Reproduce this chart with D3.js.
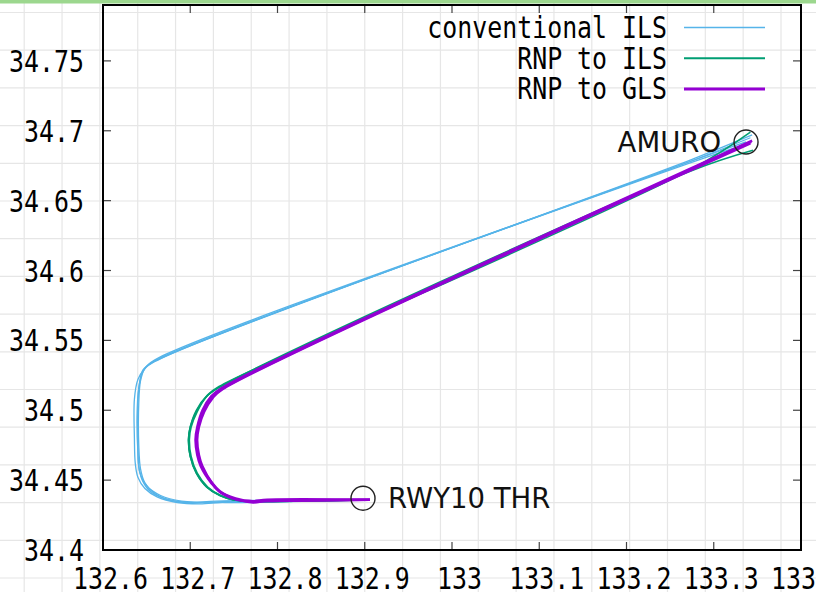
<!DOCTYPE html>
<html>
<head>
<meta charset="utf-8">
<script src="https://cdn.jsdelivr.net/npm/d3@7/dist/d3.min.js"></script>
<style>
  body { margin: 0; background: #fff; }
  svg { display: block; }
</style>
</head>
<body>
<div id="chart-area"></div>
<script>
// tick values
var xTicks = [132.6, 132.7, 132.8, 132.9, 133.0, 133.1, 133.2, 133.3, 133.4];
var yTicks = [34.4, 34.45, 34.5, 34.55, 34.6, 34.65, 34.7, 34.75];

// series names (legend order)
var seriesNames = ["conventional ILS", "RNP to ILS", "RNP to GLS"];
var seriesColors = ["#56b4e9", "#009e73", "#9400d3"];

// waypoints [lon, lat, name]
var waypoints = [
    [133.337, 34.692, "AMURO"],
    [132.898, 34.437, "RWY10 THR"]
];

// conventional ILS tracks
var ilsTracks = [
    [[133.344,34.697],[133.273,34.679],[132.658,34.535],[132.648,34.530],[132.640,34.522],[132.636,34.508],[132.636,34.480],[132.637,34.462],[132.640,34.452],[132.648,34.444],[132.662,34.438],[132.685,34.434],[132.711,34.433],[132.734,34.434],[132.763,34.435],[132.906,34.436]],
    [[133.337,34.692],[133.273,34.678],[132.656,34.534],[132.646,34.529],[132.642,34.520],[132.640,34.505],[132.640,34.478],[132.641,34.460],[132.645,34.450],[132.654,34.442],[132.670,34.437],[132.694,34.434],[132.720,34.434],[132.750,34.435],[132.906,34.436]],
    [[133.342,34.695],[133.273,34.678],[132.659,34.536],[132.648,34.530],[132.643,34.521],[132.641,34.505],[132.641,34.475],[132.643,34.458],[132.648,34.448],[132.658,34.441],[132.675,34.436],[132.700,34.434],[132.730,34.435],[132.906,34.436]],
    [[133.336,34.690],[133.273,34.677],[132.657,34.534],[132.646,34.528],[132.641,34.516],[132.639,34.495],[132.640,34.470],[132.642,34.456],[132.650,34.446],[132.666,34.439],[132.690,34.435],[132.740,34.434],[132.906,34.436]]
];

// RNP to ILS tracks
var rnpIlsTracks = [
    [[133.342,34.699],[133.273,34.672],[132.733,34.517],[132.720,34.511],[132.707,34.500],[132.700,34.488],[132.698,34.479],[132.700,34.467],[132.707,34.455],[132.719,34.445],[132.734,34.439],[132.749,34.436],[132.765,34.435],[132.906,34.436]],
    [[133.345,34.686],[133.273,34.671],[132.732,34.516],[132.719,34.510],[132.708,34.499],[132.701,34.488],[132.699,34.479],[132.701,34.467],[132.708,34.455],[132.720,34.445],[132.735,34.439],[132.750,34.436],[132.766,34.435],[132.906,34.436]],
    [[133.338,34.691],[133.273,34.672],[132.732,34.516],[132.719,34.510],[132.707,34.499],[132.700,34.488],[132.698,34.479],[132.700,34.467],[132.707,34.455],[132.719,34.445],[132.734,34.439],[132.749,34.436],[132.765,34.435],[132.906,34.436]]
];

// RNP to GLS tracks
var rnpGlsTracks = [
    [[133.343,34.692],[132.736,34.515],[132.725,34.509],[132.715,34.499],[132.709,34.488],[132.707,34.479],[132.709,34.468],[132.713,34.460],[132.725,34.448],[132.734,34.442],[132.753,34.436],[132.772,34.435],[132.788,34.435],[132.906,34.436]],
    [[133.342,34.691],[132.737,34.515],[132.726,34.509],[132.716,34.499],[132.710,34.488],[132.708,34.479],[132.710,34.468],[132.714,34.460],[132.726,34.447],[132.735,34.441],[132.754,34.436],[132.772,34.434],[132.788,34.435],[132.906,34.436]],
    [[133.344,34.693],[132.736,34.516],[132.724,34.510],[132.714,34.500],[132.708,34.488],[132.706,34.479],[132.708,34.468],[132.712,34.460],[132.724,34.448],[132.733,34.442],[132.752,34.437],[132.771,34.435],[132.788,34.436],[132.906,34.436]]
];

var W = 816, H = 592;
var plot = { left: 103, right: 801, top: 5, bottom: 550 };

var svg = d3.select("#chart-area")
    .append("svg")
        .attr("width", W)
        .attr("height", H);

// page background grid
var bg = svg.append("g").attr("class", "bg-grid");
bg.selectAll("line.v")
    .data(d3.range(24.2, W, 37.84))
    .enter().append("line")
        .attr("x1", function(d){ return d; }).attr("x2", function(d){ return d; })
        .attr("y1", 0).attr("y2", H)
        .attr("stroke", "#e6e6e6").attr("stroke-width", 1.2);
bg.selectAll("line.h")
    .data(d3.range(12.5, H, 37.7))
    .enter().append("line")
        .attr("y1", function(d){ return d; }).attr("y2", function(d){ return d; })
        .attr("x1", 0).attr("x2", W)
        .attr("stroke", "#e6e6e6").attr("stroke-width", 1.2);

// green strip at top
svg.append("rect")
    .attr("x", 0).attr("y", 0).attr("width", W).attr("height", 3.5)
    .attr("fill", "#9cd78e");

var x = d3.scaleLinear()
    .domain([132.6, 133.4])
    .range([plot.left, plot.right]);

var y = d3.scaleLinear()
    .domain([34.4, 34.79])
    .range([plot.bottom, plot.top]);

svg.append("clipPath").attr("id", "clip")
  .append("rect")
    .attr("x", plot.left).attr("y", plot.top)
    .attr("width", plot.right - plot.left).attr("height", plot.bottom - plot.top);

var fmt = function(d){ return String(+d.toFixed(2)); };
var monoFont = "'DejaVu Sans Mono', monospace";
var squeeze = 0.83;

// ticks (all four sides, inward)
var tk = svg.append("g").attr("stroke", "#444").attr("stroke-width", 1.2);
xTicks.forEach(function(v){
    tk.append("line").attr("x1", x(v)).attr("x2", x(v)).attr("y1", plot.bottom).attr("y2", plot.bottom - 8);
    tk.append("line").attr("x1", x(v)).attr("x2", x(v)).attr("y1", plot.top).attr("y2", plot.top + 8);
});
yTicks.forEach(function(v){
    tk.append("line").attr("y1", y(v)).attr("y2", y(v)).attr("x1", plot.left).attr("x2", plot.left + 8);
    tk.append("line").attr("y1", y(v)).attr("y2", y(v)).attr("x1", plot.right).attr("x2", plot.right - 8);
});

// tick labels
svg.selectAll("text.xlab")
    .data(xTicks)
    .enter().append("text")
        .attr("class", "xlab")
        .attr("transform", function(d){ return "translate(" + (x(d) + 7.5) + ",589) scale(" + squeeze + ",1)"; })
        .attr("text-anchor", "middle")
        .attr("font-family", monoFont)
        .attr("font-size", "30px")
        .text(fmt);

svg.selectAll("text.ylab")
    .data(yTicks)
    .enter().append("text")
        .attr("class", "ylab")
        .attr("transform", function(d){ return "translate(84," + (y(d) + 11) + ") scale(" + squeeze + ",1)"; })
        .attr("text-anchor", "end")
        .attr("font-family", monoFont)
        .attr("font-size", "30px")
        .text(fmt);

// tracks
var line = d3.line()
    .x(function(d){ return x(d[0]); })
    .y(function(d){ return y(d[1]); })
    .curve(d3.curveCatmullRom.alpha(0.5));

var tracks = svg.append("g").attr("clip-path", "url(#clip)").attr("fill", "none");
var allTracks = [ilsTracks, rnpIlsTracks, rnpGlsTracks];
var widths = [1.3, 1.6, 2.4];
allTracks.forEach(function(set, i){
    tracks.selectAll("path.s" + i)
        .data(set)
        .enter().append("path")
            .attr("class", "s" + i)
            .attr("d", line)
            .attr("stroke", seriesColors[i])
            .attr("stroke-width", widths[i])
            .attr("stroke-linejoin", "round");
});

// waypoints
svg.selectAll("circle.wp")
    .data(waypoints)
    .enter().append("circle")
        .attr("class", "wp")
        .attr("cx", function(d){ return x(d[0]); })
        .attr("cy", function(d){ return y(d[1]); })
        .attr("r", 12)
        .attr("fill", "none")
        .attr("stroke", "#222")
        .attr("stroke-width", 1.4);

svg.selectAll("text.wp")
    .data(waypoints)
    .enter().append("text")
        .attr("class", "wp")
        .attr("x", function(d, i){ return x(d[0]) + (i === 0 ? -25 : 25); })
        .attr("y", function(d){ return y(d[1]) + 10; })
        .attr("text-anchor", function(d, i){ return i === 0 ? "end" : "start"; })
        .attr("font-family", "'DejaVu Sans', sans-serif")
        .attr("font-size", "27.5px")
        .attr("fill", "#111")
        .text(function(d){ return d[2]; });

// frame
svg.append("rect")
    .attr("x", plot.left).attr("y", plot.top)
    .attr("width", plot.right - plot.left).attr("height", plot.bottom - plot.top)
    .attr("fill", "none")
    .attr("stroke", "#000")
    .attr("stroke-width", 2);

// legend
var legend = svg.append("g");
var legendWidths = [1.3, 2, 3];
seriesNames.forEach(function(name, i){
    var ly = 27.5 + i * 30.7;
    legend.append("text")
        .attr("transform", "translate(667," + (ly + 10.5) + ") scale(" + squeeze + ",1)")
        .attr("text-anchor", "end")
        .attr("font-family", monoFont)
        .attr("font-size", "30px")
        .text(name);
    legend.append("line")
        .attr("x1", 684).attr("x2", 765)
        .attr("y1", ly).attr("y2", ly)
        .attr("stroke", seriesColors[i])
        .attr("stroke-width", legendWidths[i]);
});
</script>
</body>
</html>
